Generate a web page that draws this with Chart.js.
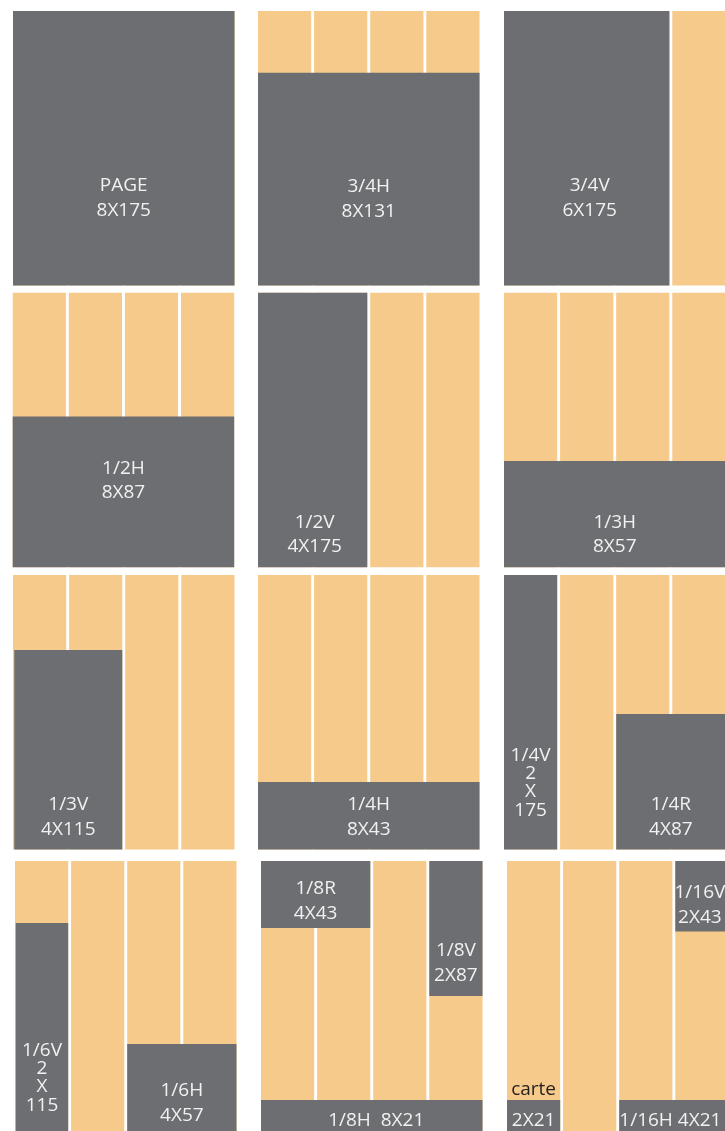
<!DOCTYPE html>
<html>
<head>
<meta charset="utf-8">
<script src="https://cdn.jsdelivr.net/npm/chart.js@4.4.1/dist/chart.umd.min.js"></script>
<style>
  html, body { margin: 0; padding: 0; background: #ffffff; overflow: hidden; }
  #wrap { width: 725px; height: 1131px; position: relative; }
</style>
</head>
<body>
<div id="wrap"><canvas id="c"></canvas></div>
<script>
// ================= DATA =================
// Ad formats (name / size label), the panel they are shown in,
// start column & column span (8 newspaper columns per page),
// and the top offset / height in mm as drawn in the reference (page = 175 mm).
const adNames    = ['PAGE','3/4H','3/4V','1/2H','1/2V','1/3H','1/3V','1/4H','1/4V','1/4R','1/6V','1/6H','1/8R','1/8V','1/8H','1/16V','carte','1/16H'];
const adSizes    = ['8X175','8X131','6X175','8X87','4X175','8X57','4X115','8X43','2X175','4X87','2X115','4X57','4X43','2X87','8X21','2X43','2X21','4X21'];
const adPanel    = [0,1,2,3,4,5,6,7,8,8,9,9,10,10,10,11,11,11];
const adColStart = [0,0,0,0,0,0,0,0,0,4,0,4,0,6,0,6,0,4];
const adColSpan  = [8,8,6,8,4,8,4,8,2,4,2,4,4,2,8,2,2,4];
const adTopMm    = [0,39.3,0,79,0,107.3,47.8,132,0,88.6,39.5,116.7,0,0,152.4,0,152.4,152.4];
const adHeightMm = [175,135.7,175,96,175,67.7,127.2,43,175,86.4,135.5,58.3,42.7,86,22.6,45,22.6,22.6];
const pageColumns = 8;     // newspaper columns per page
const pageHeightMm = 175;  // page height in mm

// ================= LAYOUT (positions / styles, kept apart from data) =================
const X_MAX = 725, Y_MAX = 1131;
const panelOrigin = [
  [13,11],[258,11],[504,11],
  [12.7,292.7],[258,292.7],[504,292.7],
  [13,575],[258,575],[504,575],
  [15,861],[261,861],[507,861]
];
const COL_PITCH = 56.1, COL_W = 53.2;
const MM = 274.5 / pageHeightMm;
// small left inset of some grey blocks as drawn
const adInsetX   = [0,0,0,0,0,0,1.3,0,0,0,0.7,0,0,0,0,0,0,0];
// label style and the centre of the last label line (from panel top)
const labelStyle = ['stack','stack','stack','stack','stack','stack','stack','stack','vertical','stack','vertical','stack','stack','stack','inline2','stack','above','inline'];
const labelLastY = [198,199,198,199,253,253,253,253,234,253,243,253,51,113,258,55,258,258];
const labelDx    = [0,0,3,0,2,0,0,0,0,0,0,0,0,0,4.5,-2,0,-3.5];
const ORANGE = '#f6ca8a', GREY = '#6d6e71', TEXT = '#f1f1f2', DARK = '#231f20';
const FONT_PX = 19;

// ================= BUILD =================
function rectPts(x0, y0, x1, y1) {
  return [{x:x0,y:y0},{x:x1,y:y0},{x:x1,y:y1},{x:x0,y:y1},{x:x0,y:y0}];
}
function leftOf(p, col)  { return panelOrigin[p][0] + (col / 2) * COL_PITCH; }
function rightOf(p, colEnd) { return panelOrigin[p][0] + (colEnd / 2 - 1) * COL_PITCH + COL_W; }
function yOf(p, mm) { return panelOrigin[p][1] + mm * MM; }

const datasets = [];
// orange page columns (4 drawn columns = 8 newspaper columns)
panelOrigin.forEach((o, p) => {
  for (let c = 0; c < pageColumns; c += 2) {
    datasets.push({
      data: rectPts(leftOf(p, c), yOf(p, 0), rightOf(p, c + 2), yOf(p, pageHeightMm)),
      backgroundColor: ORANGE, borderColor: ORANGE, order: 2
    });
  }
});
// grey ad rectangles
adNames.forEach((n, i) => {
  const p = adPanel[i];
  datasets.push({
    label: n,
    data: rectPts(leftOf(p, adColStart[i]) + adInsetX[i], yOf(p, adTopMm[i]),
                  rightOf(p, adColStart[i] + adColSpan[i]), yOf(p, adTopMm[i] + adHeightMm[i])),
    backgroundColor: GREY, borderColor: GREY, order: 1
  });
});

const labelPlugin = {
  id: 'adLabels',
  afterDatasetsDraw(chart) {
    const {ctx, scales: {x, y}} = chart;
    ctx.save();
    ctx.font = FONT_PX + 'px "Open Sans"';
    ctx.textAlign = 'center';
    ctx.textBaseline = 'alphabetic';
    const capHalf = FONT_PX * 0.357;
    adNames.forEach((n, i) => {
      const p = adPanel[i];
      const cx = (leftOf(p, adColStart[i]) + adInsetX[i] + rightOf(p, adColStart[i] + adColSpan[i])) / 2 + labelDx[i];
      const px = x.getPixelForValue(cx);
      const lastY = panelOrigin[p][1] + labelLastY[i];
      let lines, gap = 24.5;
      const st = labelStyle[i];
      if (st === 'stack') lines = [n, adSizes[i]];
      else if (st === 'vertical') { const s = adSizes[i].split('X'); lines = [n, s[0], 'X', s[1]]; gap = 18.3; }
      else if (st === 'inline') lines = [n + ' ' + adSizes[i]];
      else if (st === 'inline2') lines = [n + '  ' + adSizes[i]];
      else if (st === 'above') {
        ctx.fillStyle = DARK;
        ctx.fillText(n, px, y.getPixelForValue(lastY - 30.3) + capHalf);
        lines = [adSizes[i]];
      }
      ctx.fillStyle = TEXT;
      lines.forEach((t, k) => {
        const cy = lastY - (lines.length - 1 - k) * gap;
        ctx.fillText(t, px, y.getPixelForValue(cy) + capHalf);
      });
    });
    ctx.restore();
  }
};

function draw() {
  new Chart(document.getElementById('c'), {
    type: 'line',
    data: { datasets },
    options: {
      responsive: true,
      maintainAspectRatio: false,
      devicePixelRatio: 1,
      animation: false,
      events: [],
      layout: { padding: 0 },
      datasets: { line: { fill: 'shape', borderWidth: 0, pointRadius: 0, tension: 0 } },
      elements: { point: { radius: 0 } },
      scales: {
        x: { type: 'linear', min: 0, max: X_MAX, display: false },
        y: { type: 'linear', min: 0, max: Y_MAX, reverse: true, display: false }
      },
      plugins: { legend: { display: false }, tooltip: { enabled: false }, filler: { propagate: false } }
    },
    plugins: [labelPlugin]
  });
}
if (document.fonts && document.fonts.load) {
  document.fonts.load(FONT_PX + 'px "Open Sans"').then(draw, draw);
} else { draw(); }
</script>
</body>
</html>
